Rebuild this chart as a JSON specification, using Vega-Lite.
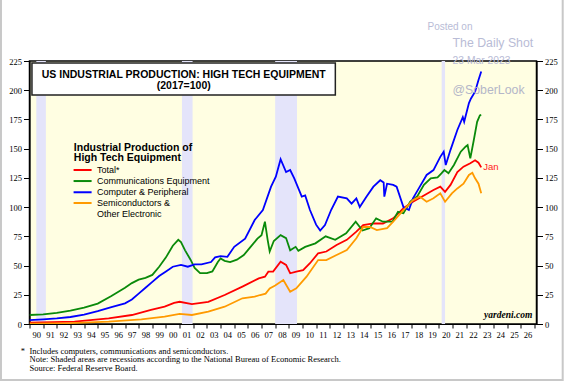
{
  "$schema": "https://vega.github.io/schema/vega-lite/v6.json",
  "width": 507,
  "height": 263,
  "autosize": "none",
  "padding": {"left": 29.5, "top": 61, "right": 27, "bottom": 57},
  "background": "white",
  "data": {"values": [{"one": 1}]},
  "config": {
    "view": {"stroke": "black", "strokeWidth": 1.5, "fill": "#FFFEE2"},
    "axis": {"grid": false, "domainColor": "black", "domainWidth": 1.2, "tickColor": "black", "labelColor": "black", "labelFont": "Liberation Serif", "labelFontSize": 8.5}
  },
  "datasets": {
    "ip": [
      {"series": "Total*", "year": 1990.0, "value": 1.1},
      {"series": "Total*", "year": 1993.3, "value": 2.0},
      {"series": "Total*", "year": 1995.8, "value": 4.8},
      {"series": "Total*", "year": 1997.5, "value": 7.7},
      {"series": "Total*", "year": 1998.9, "value": 12.0},
      {"series": "Total*", "year": 1999.9, "value": 14.8},
      {"series": "Total*", "year": 2000.6, "value": 18.0},
      {"series": "Total*", "year": 2001.0, "value": 19.0},
      {"series": "Total*", "year": 2001.9, "value": 17.0},
      {"series": "Total*", "year": 2003.1, "value": 19.0},
      {"series": "Total*", "year": 2004.3, "value": 24.8},
      {"series": "Total*", "year": 2005.6, "value": 32.0},
      {"series": "Total*", "year": 2006.8, "value": 39.0},
      {"series": "Total*", "year": 2007.25, "value": 40.5},
      {"series": "Total*", "year": 2007.5, "value": 44.8},
      {"series": "Total*", "year": 2007.85, "value": 44.8},
      {"series": "Total*", "year": 2008.4, "value": 53.3},
      {"series": "Total*", "year": 2008.8, "value": 50.5},
      {"series": "Total*", "year": 2009.1, "value": 43.4},
      {"series": "Total*", "year": 2009.55, "value": 44.8},
      {"series": "Total*", "year": 2010.05, "value": 46.0},
      {"series": "Total*", "year": 2010.55, "value": 52.0},
      {"series": "Total*", "year": 2011.15, "value": 60.5},
      {"series": "Total*", "year": 2011.75, "value": 62.0},
      {"series": "Total*", "year": 2012.5, "value": 67.6},
      {"series": "Total*", "year": 2013.25, "value": 72.0},
      {"series": "Total*", "year": 2013.95, "value": 79.0},
      {"series": "Total*", "year": 2014.45, "value": 84.7},
      {"series": "Total*", "year": 2015.2, "value": 86.0},
      {"series": "Total*", "year": 2015.9, "value": 86.0},
      {"series": "Total*", "year": 2016.65, "value": 90.4},
      {"series": "Total*", "year": 2017.4, "value": 99.0},
      {"series": "Total*", "year": 2018.1, "value": 104.6},
      {"series": "Total*", "year": 2018.9, "value": 110.0},
      {"series": "Total*", "year": 2019.6, "value": 114.6},
      {"series": "Total*", "year": 2020.1, "value": 117.5},
      {"series": "Total*", "year": 2020.45, "value": 113.0},
      {"series": "Total*", "year": 2020.85, "value": 119.0},
      {"series": "Total*", "year": 2021.35, "value": 130.0},
      {"series": "Total*", "year": 2021.8, "value": 134.6},
      {"series": "Total*", "year": 2022.3, "value": 137.5},
      {"series": "Total*", "year": 2022.65, "value": 140.0},
      {"series": "Total*", "year": 2022.9, "value": 138.0},
      {"series": "Total*", "year": 2023.1, "value": 134.0},

      {"series": "Communications Equipment", "year": 1990.0, "value": 7.7},
      {"series": "Communications Equipment", "year": 1991.0, "value": 8.2},
      {"series": "Communications Equipment", "year": 1992.0, "value": 9.5},
      {"series": "Communications Equipment", "year": 1993.0, "value": 11.5},
      {"series": "Communications Equipment", "year": 1994.0, "value": 14.0},
      {"series": "Communications Equipment", "year": 1995.0, "value": 17.5},
      {"series": "Communications Equipment", "year": 1996.0, "value": 24.0},
      {"series": "Communications Equipment", "year": 1997.0, "value": 31.0},
      {"series": "Communications Equipment", "year": 1997.5, "value": 35.0},
      {"series": "Communications Equipment", "year": 1998.0, "value": 38.0},
      {"series": "Communications Equipment", "year": 1998.5, "value": 39.5},
      {"series": "Communications Equipment", "year": 1999.0, "value": 42.0},
      {"series": "Communications Equipment", "year": 1999.5, "value": 49.0},
      {"series": "Communications Equipment", "year": 2000.0, "value": 57.0},
      {"series": "Communications Equipment", "year": 2000.5, "value": 67.0},
      {"series": "Communications Equipment", "year": 2000.9, "value": 72.0},
      {"series": "Communications Equipment", "year": 2001.1, "value": 70.0},
      {"series": "Communications Equipment", "year": 2001.4, "value": 63.0},
      {"series": "Communications Equipment", "year": 2001.8, "value": 55.0},
      {"series": "Communications Equipment", "year": 2002.1, "value": 48.0},
      {"series": "Communications Equipment", "year": 2002.5, "value": 43.5},
      {"series": "Communications Equipment", "year": 2003.0, "value": 43.5},
      {"series": "Communications Equipment", "year": 2003.4, "value": 45.0},
      {"series": "Communications Equipment", "year": 2003.8, "value": 53.0},
      {"series": "Communications Equipment", "year": 2004.0, "value": 56.0},
      {"series": "Communications Equipment", "year": 2004.3, "value": 54.0},
      {"series": "Communications Equipment", "year": 2004.7, "value": 53.0},
      {"series": "Communications Equipment", "year": 2005.2, "value": 55.0},
      {"series": "Communications Equipment", "year": 2005.7, "value": 59.0},
      {"series": "Communications Equipment", "year": 2006.2, "value": 66.0},
      {"series": "Communications Equipment", "year": 2006.7, "value": 73.0},
      {"series": "Communications Equipment", "year": 2007.0, "value": 76.0},
      {"series": "Communications Equipment", "year": 2007.25, "value": 87.5},
      {"series": "Communications Equipment", "year": 2007.45, "value": 72.0},
      {"series": "Communications Equipment", "year": 2007.6, "value": 62.0},
      {"series": "Communications Equipment", "year": 2007.9, "value": 71.0},
      {"series": "Communications Equipment", "year": 2008.4, "value": 76.0},
      {"series": "Communications Equipment", "year": 2008.8, "value": 73.5},
      {"series": "Communications Equipment", "year": 2009.1, "value": 63.0},
      {"series": "Communications Equipment", "year": 2009.5, "value": 66.0},
      {"series": "Communications Equipment", "year": 2009.7, "value": 62.7},
      {"series": "Communications Equipment", "year": 2010.2, "value": 66.0},
      {"series": "Communications Equipment", "year": 2010.95, "value": 69.0},
      {"series": "Communications Equipment", "year": 2011.7, "value": 75.0},
      {"series": "Communications Equipment", "year": 2012.4, "value": 72.0},
      {"series": "Communications Equipment", "year": 2013.2, "value": 77.6},
      {"series": "Communications Equipment", "year": 2013.9, "value": 87.5},
      {"series": "Communications Equipment", "year": 2014.4, "value": 80.0},
      {"series": "Communications Equipment", "year": 2014.9, "value": 82.0},
      {"series": "Communications Equipment", "year": 2015.4, "value": 90.4},
      {"series": "Communications Equipment", "year": 2015.9, "value": 87.5},
      {"series": "Communications Equipment", "year": 2016.6, "value": 87.5},
      {"series": "Communications Equipment", "year": 2017.0, "value": 96.0},
      {"series": "Communications Equipment", "year": 2017.4, "value": 94.7},
      {"series": "Communications Equipment", "year": 2017.9, "value": 104.6},
      {"series": "Communications Equipment", "year": 2018.4, "value": 109.0},
      {"series": "Communications Equipment", "year": 2018.9, "value": 119.0},
      {"series": "Communications Equipment", "year": 2019.4, "value": 124.6},
      {"series": "Communications Equipment", "year": 2019.9, "value": 125.5},
      {"series": "Communications Equipment", "year": 2020.2, "value": 129.0},
      {"series": "Communications Equipment", "year": 2020.4, "value": 131.7},
      {"series": "Communications Equipment", "year": 2020.7, "value": 129.0},
      {"series": "Communications Equipment", "year": 2021.1, "value": 136.0},
      {"series": "Communications Equipment", "year": 2021.6, "value": 147.4},
      {"series": "Communications Equipment", "year": 2021.95, "value": 151.7},
      {"series": "Communications Equipment", "year": 2022.1, "value": 153.0},
      {"series": "Communications Equipment", "year": 2022.3, "value": 141.7},
      {"series": "Communications Equipment", "year": 2022.55, "value": 157.0},
      {"series": "Communications Equipment", "year": 2022.8, "value": 173.0},
      {"series": "Communications Equipment", "year": 2023.0, "value": 178.5},
      {"series": "Communications Equipment", "year": 2023.1, "value": 179.0},

      {"series": "Computer & Peripheral", "year": 1990.0, "value": 3.4},
      {"series": "Computer & Peripheral", "year": 1991.0, "value": 4.0},
      {"series": "Computer & Peripheral", "year": 1992.0, "value": 4.8},
      {"series": "Computer & Peripheral", "year": 1993.0, "value": 6.0},
      {"series": "Computer & Peripheral", "year": 1994.0, "value": 8.0},
      {"series": "Computer & Peripheral", "year": 1995.0, "value": 11.0},
      {"series": "Computer & Peripheral", "year": 1996.0, "value": 14.5},
      {"series": "Computer & Peripheral", "year": 1997.0, "value": 17.7},
      {"series": "Computer & Peripheral", "year": 1997.5, "value": 21.0},
      {"series": "Computer & Peripheral", "year": 1998.0, "value": 26.0},
      {"series": "Computer & Peripheral", "year": 1998.5, "value": 31.0},
      {"series": "Computer & Peripheral", "year": 1999.0, "value": 36.0},
      {"series": "Computer & Peripheral", "year": 1999.5, "value": 41.0},
      {"series": "Computer & Peripheral", "year": 2000.0, "value": 45.0},
      {"series": "Computer & Peripheral", "year": 2000.5, "value": 49.0},
      {"series": "Computer & Peripheral", "year": 2001.1, "value": 50.5},
      {"series": "Computer & Peripheral", "year": 2001.6, "value": 49.0},
      {"series": "Computer & Peripheral", "year": 2002.1, "value": 51.0},
      {"series": "Computer & Peripheral", "year": 2002.6, "value": 51.0},
      {"series": "Computer & Peripheral", "year": 2003.3, "value": 53.0},
      {"series": "Computer & Peripheral", "year": 2003.6, "value": 57.0},
      {"series": "Computer & Peripheral", "year": 2004.0, "value": 58.0},
      {"series": "Computer & Peripheral", "year": 2004.5, "value": 57.5},
      {"series": "Computer & Peripheral", "year": 2005.0, "value": 66.0},
      {"series": "Computer & Peripheral", "year": 2005.8, "value": 73.0},
      {"series": "Computer & Peripheral", "year": 2006.5, "value": 89.0},
      {"series": "Computer & Peripheral", "year": 2007.1, "value": 97.5},
      {"series": "Computer & Peripheral", "year": 2007.7, "value": 117.5},
      {"series": "Computer & Peripheral", "year": 2008.05, "value": 126.0},
      {"series": "Computer & Peripheral", "year": 2008.4, "value": 141.0},
      {"series": "Computer & Peripheral", "year": 2008.8, "value": 130.0},
      {"series": "Computer & Peripheral", "year": 2009.1, "value": 131.7},
      {"series": "Computer & Peripheral", "year": 2009.4, "value": 124.6},
      {"series": "Computer & Peripheral", "year": 2009.95, "value": 109.0},
      {"series": "Computer & Peripheral", "year": 2010.2, "value": 110.0},
      {"series": "Computer & Peripheral", "year": 2010.55, "value": 97.5},
      {"series": "Computer & Peripheral", "year": 2011.0, "value": 85.0},
      {"series": "Computer & Peripheral", "year": 2011.3, "value": 80.0},
      {"series": "Computer & Peripheral", "year": 2011.65, "value": 84.7},
      {"series": "Computer & Peripheral", "year": 2012.1, "value": 97.5},
      {"series": "Computer & Peripheral", "year": 2012.6, "value": 109.0},
      {"series": "Computer & Peripheral", "year": 2013.25, "value": 107.5},
      {"series": "Computer & Peripheral", "year": 2013.6, "value": 103.0},
      {"series": "Computer & Peripheral", "year": 2013.95, "value": 107.5},
      {"series": "Computer & Peripheral", "year": 2014.2, "value": 100.0},
      {"series": "Computer & Peripheral", "year": 2014.7, "value": 109.0},
      {"series": "Computer & Peripheral", "year": 2015.2, "value": 117.5},
      {"series": "Computer & Peripheral", "year": 2015.7, "value": 123.0},
      {"series": "Computer & Peripheral", "year": 2015.95, "value": 121.0},
      {"series": "Computer & Peripheral", "year": 2016.0, "value": 109.0},
      {"series": "Computer & Peripheral", "year": 2016.2, "value": 120.0},
      {"series": "Computer & Peripheral", "year": 2016.65, "value": 119.0},
      {"series": "Computer & Peripheral", "year": 2016.9, "value": 117.5},
      {"series": "Computer & Peripheral", "year": 2017.4, "value": 100.0},
      {"series": "Computer & Peripheral", "year": 2017.8, "value": 97.5},
      {"series": "Computer & Peripheral", "year": 2018.1, "value": 107.5},
      {"series": "Computer & Peripheral", "year": 2018.6, "value": 117.5},
      {"series": "Computer & Peripheral", "year": 2019.1, "value": 127.5},
      {"series": "Computer & Peripheral", "year": 2019.6, "value": 131.7},
      {"series": "Computer & Peripheral", "year": 2020.1, "value": 143.0},
      {"series": "Computer & Peripheral", "year": 2020.35, "value": 147.4},
      {"series": "Computer & Peripheral", "year": 2020.5, "value": 136.0},
      {"series": "Computer & Peripheral", "year": 2020.85, "value": 149.0},
      {"series": "Computer & Peripheral", "year": 2021.35, "value": 166.0},
      {"series": "Computer & Peripheral", "year": 2021.75, "value": 177.0},
      {"series": "Computer & Peripheral", "year": 2021.85, "value": 173.0},
      {"series": "Computer & Peripheral", "year": 2022.2, "value": 189.0},
      {"series": "Computer & Peripheral", "year": 2022.35, "value": 193.0},
      {"series": "Computer & Peripheral", "year": 2022.65, "value": 198.7},
      {"series": "Computer & Peripheral", "year": 2022.9, "value": 208.7},
      {"series": "Computer & Peripheral", "year": 2023.1, "value": 216.0},

      {"series": "Semiconductors & Other Electronic", "year": 1990.0, "value": 0.3},
      {"series": "Semiconductors & Other Electronic", "year": 1993.0, "value": 0.8},
      {"series": "Semiconductors & Other Electronic", "year": 1995.8, "value": 2.0},
      {"series": "Semiconductors & Other Electronic", "year": 1998.2, "value": 4.0},
      {"series": "Semiconductors & Other Electronic", "year": 1999.9, "value": 6.3},
      {"series": "Semiconductors & Other Electronic", "year": 2001.0, "value": 8.6},
      {"series": "Semiconductors & Other Electronic", "year": 2001.9, "value": 7.7},
      {"series": "Semiconductors & Other Electronic", "year": 2003.1, "value": 10.5},
      {"series": "Semiconductors & Other Electronic", "year": 2004.3, "value": 14.8},
      {"series": "Semiconductors & Other Electronic", "year": 2005.6, "value": 22.0},
      {"series": "Semiconductors & Other Electronic", "year": 2006.5, "value": 23.4},
      {"series": "Semiconductors & Other Electronic", "year": 2006.9, "value": 24.8},
      {"series": "Semiconductors & Other Electronic", "year": 2007.3, "value": 26.0},
      {"series": "Semiconductors & Other Electronic", "year": 2007.6, "value": 30.5},
      {"series": "Semiconductors & Other Electronic", "year": 2008.0, "value": 33.0},
      {"series": "Semiconductors & Other Electronic", "year": 2008.6, "value": 37.6},
      {"series": "Semiconductors & Other Electronic", "year": 2009.1, "value": 27.6},
      {"series": "Semiconductors & Other Electronic", "year": 2009.55, "value": 30.5},
      {"series": "Semiconductors & Other Electronic", "year": 2010.3, "value": 40.5},
      {"series": "Semiconductors & Other Electronic", "year": 2011.15, "value": 54.7},
      {"series": "Semiconductors & Other Electronic", "year": 2011.75, "value": 54.7},
      {"series": "Semiconductors & Other Electronic", "year": 2012.5, "value": 59.0},
      {"series": "Semiconductors & Other Electronic", "year": 2013.25, "value": 63.3},
      {"series": "Semiconductors & Other Electronic", "year": 2013.95, "value": 73.3},
      {"series": "Semiconductors & Other Electronic", "year": 2014.45, "value": 83.0},
      {"series": "Semiconductors & Other Electronic", "year": 2014.95, "value": 83.0},
      {"series": "Semiconductors & Other Electronic", "year": 2015.45, "value": 80.4},
      {"series": "Semiconductors & Other Electronic", "year": 2016.2, "value": 82.0},
      {"series": "Semiconductors & Other Electronic", "year": 2016.65, "value": 87.5},
      {"series": "Semiconductors & Other Electronic", "year": 2017.4, "value": 97.5},
      {"series": "Semiconductors & Other Electronic", "year": 2018.1, "value": 106.0},
      {"series": "Semiconductors & Other Electronic", "year": 2018.6, "value": 109.0},
      {"series": "Semiconductors & Other Electronic", "year": 2019.1, "value": 104.6},
      {"series": "Semiconductors & Other Electronic", "year": 2019.6, "value": 107.5},
      {"series": "Semiconductors & Other Electronic", "year": 2020.1, "value": 111.8},
      {"series": "Semiconductors & Other Electronic", "year": 2020.45, "value": 104.6},
      {"series": "Semiconductors & Other Electronic", "year": 2020.95, "value": 111.8},
      {"series": "Semiconductors & Other Electronic", "year": 2021.35, "value": 116.0},
      {"series": "Semiconductors & Other Electronic", "year": 2021.8, "value": 120.0},
      {"series": "Semiconductors & Other Electronic", "year": 2022.2, "value": 127.5},
      {"series": "Semiconductors & Other Electronic", "year": 2022.45, "value": 129.4},
      {"series": "Semiconductors & Other Electronic", "year": 2022.65, "value": 124.6},
      {"series": "Semiconductors & Other Electronic", "year": 2022.9, "value": 120.0},
      {"series": "Semiconductors & Other Electronic", "year": 2023.1, "value": 111.8}
    ],
    "recessions": [
      {"start": 1990.5, "end": 1991.2},
      {"start": 2001.17, "end": 2001.95},
      {"start": 2008.0, "end": 2009.6},
      {"start": 2020.2, "end": 2020.45}
    ]
  },
  "resolve": {"scale": {"y": "shared", "x": "shared"}, "axis": {"y": "independent", "x": "independent"}},
  "layer": [
    {
      "data": {"name": "recessions"},
      "mark": {"type": "rect", "color": "#E4E4FA"},
      "encoding": {
        "x": {"field": "start", "type": "quantitative", "axis": null,
              "scale": {"domain": [1990, 2027.15], "nice": false, "zero": false}},
        "x2": {"field": "end"}
      }
    },
    {
      "data": {"name": "ip"},
      "mark": {"type": "line", "strokeWidth": 1.8, "clip": true},
      "encoding": {
        "x": {"field": "year", "type": "quantitative", "title": null,
              "scale": {"domain": [1990, 2027.15], "nice": false, "zero": false},
              "axis": {"orient": "bottom", "title": null, "values": [1990,1991,1992,1993,1994,1995,1996,1997,1998,1999,2000,2001,2002,2003,2004,2005,2006,2007,2008,2009,2010,2011,2012,2013,2014,2015,2016,2017,2018,2019,2020,2021,2022,2023,2024,2025,2026,2027],
                       "labelExpr": "datum.value >= 2027 ? '' : substring(toString(datum.value), 2, 4)",
                       "labelOffset": 6.8, "labelFlush": false, "labelOverlap": false, "tickSize": 4, "labelPadding": 2}},
        "y": {"field": "value", "type": "quantitative", "title": null,
              "scale": {"domain": [0, 225], "nice": false},
              "axis": {"orient": "left", "title": null, "values": [0,25,50,75,100,125,150,175,200,225], "tickSize": 6, "labelPadding": 2}},
        "color": {"field": "series", "type": "nominal", "legend": null,
                  "scale": {"domain": ["Total*", "Communications Equipment", "Computer & Peripheral", "Semiconductors & Other Electronic"],
                            "range": ["#FF0000", "#0A8A0A", "#0000FF", "#FF9A00"]}},
        "order": {"field": "year", "type": "quantitative"}
      }
    },
    {
      "mark": {"type": "rect", "fill": "white", "stroke": "#222222", "strokeWidth": 1.5},
      "encoding": {
        "x": {"datum": 1990.18, "type": "quantitative", "axis": null},
        "x2": {"datum": 2012.41},
        "y": {"datum": 195.9, "type": "quantitative", "title": null,
              "axis": {"orient": "right", "title": null, "values": [0,25,50,75,100,125,150,175,200,225], "tickSize": 6, "labelPadding": 2}},
        "y2": {"datum": 223.3}
      }
    },
    {
      "mark": {"type": "text", "text": ["US INDUSTRIAL PRODUCTION: HIGH TECH EQUIPMENT", "(2017=100)"], "font": "Liberation Sans", "fontWeight": "bold", "fontSize": 10.5, "lineHeight": 10.8, "align": "center", "baseline": "alphabetic", "color": "black"},
      "encoding": {
        "x": {"datum": 2001.3, "type": "quantitative", "axis": null},
        "y": {"datum": 210.6, "type": "quantitative", "axis": null}
      }
    },
    {
      "mark": {"type": "text", "text": ["Industrial Production of", "High Tech Equipment"], "font": "Liberation Sans", "fontWeight": "bold", "fontSize": 10.5, "lineHeight": 9.8, "align": "left", "baseline": "alphabetic", "color": "black"},
      "encoding": {
        "x": {"datum": 1993.25, "type": "quantitative", "axis": null},
        "y": {"datum": 148.0, "type": "quantitative", "axis": null}
      }
    },
    {
      "mark": {"type": "text", "text": ["Total*", "Communications Equipment", "Computer & Peripheral", "Semiconductors &", "Other Electronic"], "font": "Liberation Sans", "fontSize": 9, "lineHeight": 11, "align": "left", "baseline": "alphabetic", "color": "black"},
      "encoding": {
        "x": {"datum": 1994.95, "type": "quantitative", "axis": null},
        "y": {"datum": 129.4, "type": "quantitative", "axis": null}
      }
    },
    {
      "mark": {"type": "rule", "color": "#FF0000", "strokeWidth": 2},
      "encoding": {
        "x": {"datum": 1993.23, "type": "quantitative", "axis": null},
        "x2": {"datum": 1994.55},
        "y": {"datum": 131.75, "type": "quantitative", "axis": null}
      }
    },
    {
      "mark": {"type": "rule", "color": "#0A8A0A", "strokeWidth": 2},
      "encoding": {
        "x": {"datum": 1993.23, "type": "quantitative", "axis": null},
        "x2": {"datum": 1994.55},
        "y": {"datum": 122.3, "type": "quantitative", "axis": null}
      }
    },
    {
      "mark": {"type": "rule", "color": "#0000FF", "strokeWidth": 2},
      "encoding": {
        "x": {"datum": 1993.23, "type": "quantitative", "axis": null},
        "x2": {"datum": 1994.55},
        "y": {"datum": 112.7, "type": "quantitative", "axis": null}
      }
    },
    {
      "mark": {"type": "rule", "color": "#FF9A00", "strokeWidth": 2},
      "encoding": {
        "x": {"datum": 1993.23, "type": "quantitative", "axis": null},
        "x2": {"datum": 1994.55},
        "y": {"datum": 103.5, "type": "quantitative", "axis": null}
      }
    },
    {
      "mark": {"type": "text", "text": "Jan", "font": "Liberation Sans", "fontSize": 9.5, "align": "left", "baseline": "middle", "color": "#FF2020"},
      "encoding": {
        "x": {"datum": 2023.25, "type": "quantitative", "axis": null},
        "y": {"datum": 134.5, "type": "quantitative", "axis": null}
      }
    },
    {
      "mark": {"type": "text", "text": "yardeni.com", "font": "Liberation Serif", "fontStyle": "italic", "fontWeight": "bold", "fontSize": 9.5, "align": "right", "baseline": "alphabetic", "color": "black"},
      "encoding": {
        "x": {"datum": 2026.85, "type": "quantitative", "axis": null},
        "y": {"datum": 5.0, "type": "quantitative", "axis": null}
      }
    },
    {
      "mark": {"type": "text", "text": "*", "font": "Liberation Serif", "fontSize": 8.5, "align": "left", "baseline": "middle", "color": "black"},
      "encoding": {
        "x": {"datum": 1989.35, "type": "quantitative", "axis": null},
        "y": {"datum": -23.1, "type": "quantitative", "axis": null}
      }
    },
    {
      "mark": {"type": "text", "text": ["Includes computers, communications and semiconductors.", "Note: Shaded areas are recessions according to the National Bureau of Economic Research.", "Source: Federal Reserve Board."], "font": "Liberation Serif", "fontSize": 8.5, "lineHeight": 8.5, "align": "left", "baseline": "top", "color": "black"},
      "encoding": {
        "x": {"datum": 1990.0, "type": "quantitative", "axis": null},
        "y": {"datum": -19.5, "type": "quantitative", "axis": null}
      }
    },
    {
      "mark": {"type": "text", "text": "Posted on", "font": "Liberation Sans", "fontSize": 10, "align": "left", "baseline": "middle", "color": "#B9BCD6"},
      "encoding": {
        "x": {"datum": 2019.16, "type": "quantitative", "axis": null},
        "y": {"datum": 254.0, "type": "quantitative", "axis": null}
      }
    },
    {
      "mark": {"type": "text", "text": "The Daily Shot", "font": "Liberation Sans", "fontSize": 12.3, "align": "left", "baseline": "middle", "color": "#B9BCD6"},
      "encoding": {
        "x": {"datum": 2021.0, "type": "quantitative", "axis": null},
        "y": {"datum": 240.3, "type": "quantitative", "axis": null}
      }
    },
    {
      "mark": {"type": "text", "text": "23 Mar 2023", "font": "Liberation Sans", "fontSize": 10.3, "align": "left", "baseline": "middle", "color": "#B9BCD6"},
      "encoding": {
        "x": {"datum": 2021.0, "type": "quantitative", "axis": null},
        "y": {"datum": 225.0, "type": "quantitative", "axis": null}
      }
    },
    {
      "mark": {"type": "text", "text": "@SoberLook", "font": "Liberation Sans", "fontSize": 12.3, "align": "left", "baseline": "middle", "color": "#B4B6C8"},
      "encoding": {
        "x": {"datum": 2021.0, "type": "quantitative", "axis": null},
        "y": {"datum": 200.2, "type": "quantitative", "axis": null}
      }
    },
    {
      "mark": {"type": "rect", "fill": null, "stroke": "#C8C8C8", "strokeWidth": 2, "clip": false},
      "encoding": {
        "x": {"datum": 1987.91, "type": "quantitative", "axis": null},
        "x2": {"datum": 2029.07},
        "y": {"datum": -47.9, "type": "quantitative", "axis": null},
        "y2": {"datum": 278}
      }
    }
  ]
}
